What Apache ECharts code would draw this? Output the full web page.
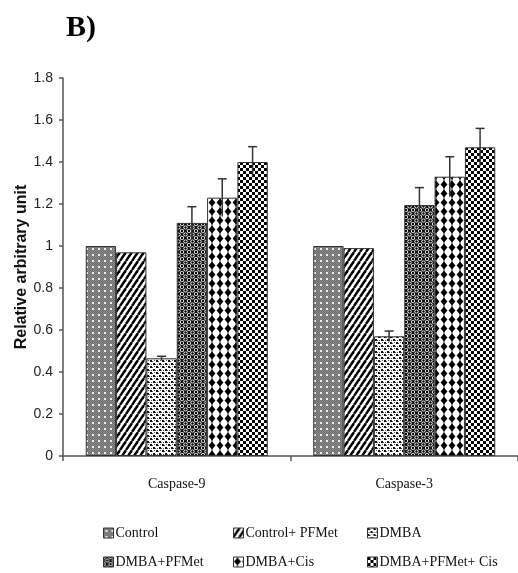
<!DOCTYPE html>
<html>
<head>
<meta charset="utf-8">
<script src="https://cdn.jsdelivr.net/npm/echarts@6/dist/echarts.min.js"></script>
<style>html,body{margin:0;padding:0;background:#fff;}#c{width:518px;height:573px;}</style>
</head>
<body>
<div id="c"></div>
<script>
const categories = ['Caspase-9', 'Caspase-3'];
const seriesNames = ['Control', 'Control+ PFMet', 'DMBA', 'DMBA+PFMet', 'DMBA+Cis', 'DMBA+PFMet+ Cis'];
const control       = [1.00, 1.00];
const controlPFMet  = [0.97, 0.99];
const dmba          = [0.465, 0.57];
const dmbaPFMet     = [1.11, 1.195];
const dmbaCis       = [1.23, 1.33];
const dmbaPFMetCis  = [1.40, 1.47];
const errControl      = [0, 0];
const errControlPFMet = [0, 0];
const errDmba         = [0.01, 0.025];
const errDmbaPFMet    = [0.077, 0.083];
const errDmbaCis      = [0.09, 0.095];
const errDmbaPFMetCis = [0.073, 0.09];
const yTicks = { min: 0, max: 1.8, interval: 0.2 };

const values = [control, controlPFMet, dmba, dmbaPFMet, dmbaCis, dmbaPFMetCis];
const errors = [errControl, errControlPFMet, errDmba, errDmbaPFMet, errDmbaCis, errDmbaPFMetCis];

function tile(w, h, draw) {
  const c = document.createElement('canvas');
  c.width = w; c.height = h;
  const g = c.getContext('2d');
  draw(g, w, h);
  return { image: c, repeat: 'repeat' };
}
function circ(g, x, y, r) { g.beginPath(); g.arc(x, y, r, 0, Math.PI * 2); g.fill(); }

const patterns = [
  tile(6, 6, (g) => {
    g.fillStyle = '#8c8c8c'; g.fillRect(0, 0, 6, 6);
    g.fillStyle = '#6c6c6c';
    for (let x = 0; x < 6; x++) for (let y = 0; y < 6; y++) if ((x + y) % 2 === 0) g.fillRect(x, y, 1, 1);
    g.fillStyle = '#ececec'; g.fillRect(2, 2, 2, 2);
  }),
  tile(6, 9, (g) => {
    g.fillStyle = '#fff'; g.fillRect(0, 0, 6, 9);
    g.strokeStyle = '#000'; g.lineWidth = 2.4;
    for (const k of [-12, -6, 0, 6, 12]) { g.beginPath(); g.moveTo(k, 9); g.lineTo(k + 6, 0); g.stroke(); }
  }),
  tile(6, 6, (g) => {
    g.fillStyle = '#fff'; g.fillRect(0, 0, 6, 6);
    g.fillStyle = '#111';
    g.fillRect(0, 0, 2, 2); g.fillRect(3, 3, 2, 2);
    g.fillStyle = '#555';
    g.fillRect(4, 0, 1, 1); g.fillRect(1, 4, 1, 1); g.fillRect(2, 1, 1, 1); g.fillRect(5, 4, 1, 1);
  }),
  tile(7, 7, (g) => {
    g.fillStyle = '#111'; g.fillRect(0, 0, 7, 7);
    const pts = [[0, 0], [7, 0], [0, 7], [7, 7], [3.5, 3.5]];
    g.fillStyle = '#fff'; pts.forEach(p => circ(g, p[0], p[1], 2.1));
    g.fillStyle = '#000'; pts.forEach(p => circ(g, p[0], p[1], 1.2));
  }),
  tile(8, 9, (g) => {
    g.fillStyle = '#fff'; g.fillRect(0, 0, 8, 9);
    g.fillStyle = '#000';
    g.beginPath(); g.moveTo(4, 0.4); g.lineTo(7.4, 4.5); g.lineTo(4, 8.6); g.lineTo(0.6, 4.5); g.closePath(); g.fill();
    g.fillRect(3.6, 0, 0.8, 9);
  }),
  tile(6, 6, (g) => {
    g.fillStyle = '#fff'; g.fillRect(0, 0, 6, 6);
    g.fillStyle = '#000'; g.fillRect(0, 0, 3, 3); g.fillRect(3, 3, 3, 3);
  })
];

const BAR_GAP_RATIO = 0.2;
const barSeries = seriesNames.map((name, i) => ({
  name: name,
  type: 'bar',
  data: values[i],
  barGap: '0%',
  barCategoryGap: '20%',
  itemStyle: { color: patterns[i], borderColor: '#333', borderWidth: 1 },
  emphasis: { disabled: true },
  silent: true
}));

const errData = [];
seriesNames.forEach((n, s) => {
  categories.forEach((c, ci) => {
    if (errors[s][ci] > 0) errData.push([ci, values[s][ci], errors[s][ci], s]);
  });
});

const errSeries = {
  type: 'custom',
  name: 'err',
  silent: true,
  z: 10,
  data: errData,
  encode: { x: 0, y: 1 },
  renderItem: function (params, api) {
    const ci = api.value(0), v = api.value(1), e = api.value(2), s = api.value(3);
    const catW = api.size([1, 0])[0];
    const barW = catW * (1 - BAR_GAP_RATIO) / seriesNames.length;
    const base = api.coord([ci, v]);
    const x = base[0] + (s - (seriesNames.length - 1) / 2) * barW;
    const yTop = api.coord([ci, v + e])[1];
    const yBot = api.coord([ci, v - e])[1];
    const st = { stroke: '#333', lineWidth: 1.5 };
    return {
      type: 'group',
      children: [
        { type: 'line', shape: { x1: x, y1: yTop, x2: x, y2: yBot }, style: st },
        { type: 'line', shape: { x1: x - 4.5, y1: yTop, x2: x + 4.5, y2: yTop }, style: st }
      ]
    };
  }
};

const legendX = [103, 233, 367];
const legendY = [526, 555];
const legends = seriesNames.map((n, i) => ({
  data: [n],
  left: legendX[i % 3],
  top: legendY[Math.floor(i / 3)],
  orient: 'horizontal',
  icon: 'rect',
  itemWidth: 10,
  itemHeight: 10,
  itemGap: 2,
  padding: 0,
  selectedMode: false,
  itemStyle: { borderColor: '#333', borderWidth: 1 },
  textStyle: { fontFamily: 'Liberation Serif', fontSize: 14, color: '#111', padding: [0, 0, 0, -3] }
}));

const chart = echarts.init(document.getElementById('c'), null, { renderer: 'canvas' });
chart.setOption({
  animation: false,
  backgroundColor: '#fff',
  title: {
    text: 'B)',
    left: 61,
    top: 8,
    textStyle: { fontFamily: 'Liberation Serif', fontWeight: 'bold', fontSize: 30, color: '#000' }
  },
  legend: legends,
  grid: { left: 63, top: 78, width: 460, height: 378 },
  xAxis: {
    type: 'category',
    data: categories,
    axisLine: { lineStyle: { color: '#555', width: 1.5 } },
    axisTick: { show: true, length: 5, lineStyle: { color: '#555', width: 1.5 } },
    axisLabel: { margin: 21, fontFamily: 'Liberation Serif', fontSize: 14, color: '#111' }
  },
  yAxis: {
    type: 'value',
    min: yTicks.min,
    max: yTicks.max,
    interval: yTicks.interval,
    name: 'Relative arbitrary unit',
    nameLocation: 'middle',
    nameGap: 33,
    nameMoveOverlap: false,
    nameRotate: 90,
    nameTextStyle: { fontFamily: 'Liberation Sans', fontWeight: 'bold', fontSize: 16, color: '#111' },
    splitLine: { show: false },
    axisLine: { show: true, lineStyle: { color: '#555', width: 1.5 } },
    axisTick: { show: true, length: 4, lineStyle: { color: '#555', width: 1.5 } },
    axisLabel: { margin: 10, fontFamily: '"Liberation Sans Narrow", "Liberation Sans", Arial', fontSize: 14, color: '#222' }
  },
  series: barSeries.concat([errSeries])
});
</script>
</body>
</html>
